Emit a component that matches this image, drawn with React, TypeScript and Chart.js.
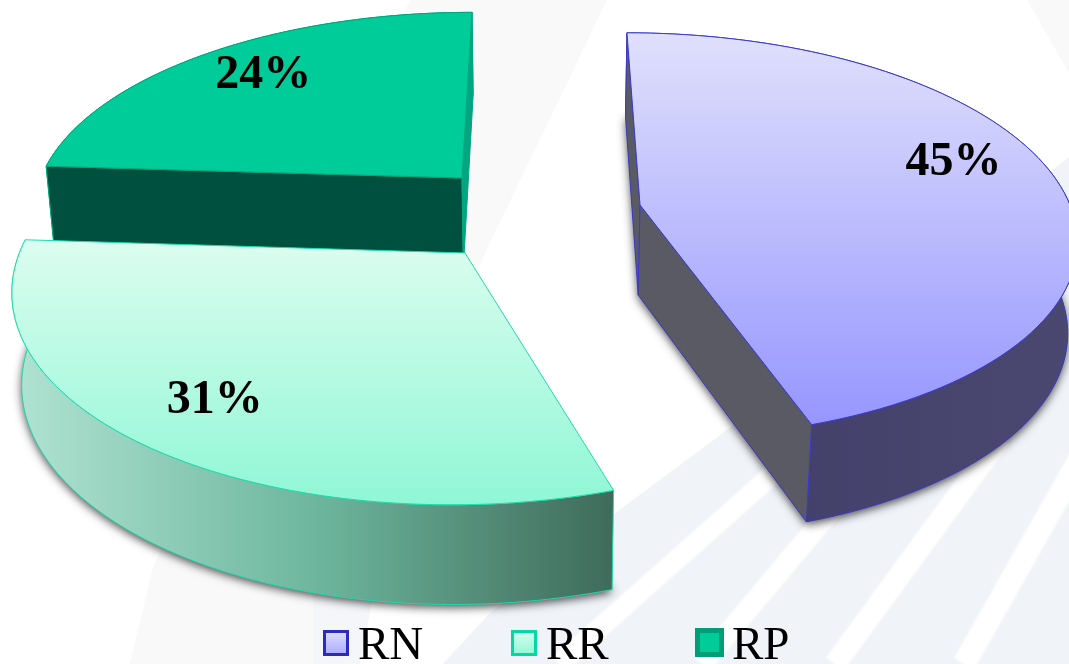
import React, { useEffect, useRef } from "react";
import { Chart, registerables } from "chart.js";

Chart.register(...registerables);

const categories = ["RN", "RR", "RP"];
const shares = [45, 31, 24];

// Slice apexes on the tilted ground plane, in pie-radius units.
const sliceCenters = [
  [0.2326, 0],
  [-0.1683, 0.2339],
  [-0.1852, -0.1392],
];
const labelFractions = [0.795, 0.794, 0.792];
const labelShifts = [-7.6, 0.35, 1.3];
const drawOrder = [2, 0, 1];
const legendX = [323, 511, 695];
const legendY = [630, 630, 628];
const legendSize = [26, 26, 29];
const legendBorder = [3, 3, 5];
const legendTextX = [358, 546, 732];

const topEdge = ["#e0e0fc", "#dcfdf0", "#00cc99"];
const bottomEdge = ["#9696ff", "#8ff7d5", "#00cc99"];
const strokes = ["#3a3ac8", "#1fdcaa", "#00a67d"];
const legendBorders = ["#2b2bc0", "#00d9a0", "#009e77"];

const CAM = { k: 0.15, s: 198, f: 430, x0: 540, y0: 205, depth: 90, nadir: 5000 };

type P = [number, number];

function project(wx: number, wy: number, low: boolean): P {
  const d = 1 - CAM.k * wy;
  let sx = CAM.x0 + (CAM.f * wx) / d;
  let sy = CAM.y0 + (CAM.s * wy) / d;
  if (low) {
    const h = CAM.depth / Math.sqrt(d);
    sy += h;
    sx += ((CAM.x0 - sx) * h) / CAM.nadir;
  }
  return [sx, sy];
}

function poly(ctx: CanvasRenderingContext2D, pts: P[]) {
  ctx.beginPath();
  pts.forEach((p, i) => (i ? ctx.lineTo(p[0], p[1]) : ctx.moveTo(p[0], p[1])));
  ctx.closePath();
}

function paintBackground(ctx: CanvasRenderingContext2D) {
  ctx.save();
  ctx.fillStyle = "#ffffff";
  ctx.fillRect(0, 0, 1069, 664);
  ctx.fillStyle = "#f9f9fa";
  poly(ctx, [[410, 0], [607, 0], [313, 610], [313, 664], [130, 664], [153, 567]]);
  ctx.fill();
  poly(ctx, [[1027, 0], [1069, 0], [1069, 73]]);
  ctx.fill();
  ctx.fillStyle = "#f5f6f9";
  poly(ctx, [[313, 664], [313, 560], [380, 560], [360, 664]]);
  ctx.fill();
  ctx.fillStyle = "#f0f3f8";
  poly(ctx, [[443, 664], [490, 613], [610, 517], [727, 430], [900, 290], [1069, 157], [1069, 664]]);
  ctx.fill();
  ctx.strokeStyle = "#ffffff";
  ctx.lineCap = "butt";
  ctx.filter = "blur(1px)";
  const bands: [number, number, number, number, number][] = [
    [559, 664, 790, 459, 20],
    [702, 664, 860, 476, 21],
    [835, 664, 1000, 438, 22],
    [964, 664, 1090, 441, 23],
  ];
  bands.forEach(([a, b, c, d, w]) => {
    ctx.lineWidth = w;
    ctx.beginPath();
    ctx.moveTo(a, b);
    ctx.lineTo(c, d);
    ctx.stroke();
  });
  ctx.filter = "none";
  ctx.restore();
}

const pie3d = {
  id: "pie3d",
  beforeDatasetDraw() {
    return false;
  },
  afterDatasetsDraw(chart: any) {
    const ctx: CanvasRenderingContext2D = chart.ctx;
    const arcs = chart.getDatasetMeta(0).data;
    ctx.save();

    drawOrder.forEach((i) => {
      const arc = arcs[i];
      const [cx, cy] = sliceCenters[i];
      const a0 = arc.startAngle;
      const a1 = arc.endAngle;
      const rim = (low: boolean) => {
        const out: P[] = [];
        for (let t = 0; t <= 90; t++) {
          const a = a0 + ((a1 - a0) * t) / 90;
          out.push(project(cx + Math.cos(a), cy + Math.sin(a), low));
        }
        return out;
      };
      const topRim = rim(false);
      const lowRim = rim(true);
      const apexTop = project(cx, cy, false);
      const apexLow = project(cx, cy, true);
      const ys = topRim.map((p) => p[1]).concat(apexTop[1]);
      const xs = lowRim.map((p) => p[0]).concat(apexLow[0]);
      const minY = Math.min(...ys);
      const maxY = Math.max(...ys);
      const minX = Math.min(...xs);
      const maxX = Math.max(...xs);

      // soft shadow under the block (the green slice at the back has none)
      if (i !== 2) {
        ctx.save();
        ctx.shadowColor = "rgba(0,0,0,0.7)";
        ctx.shadowBlur = 10;
        ctx.shadowOffsetY = 3;
        ctx.fillStyle = "#555";
        poly(ctx, [apexLow, ...lowRim]);
        ctx.fill();
        ctx.restore();
      }

      // outer wall
      const outer = [...topRim, ...lowRim.slice().reverse()];
      let wall: string | CanvasGradient = "#00503f";
      if (i === 0) {
        const g = ctx.createLinearGradient(minX, 0, maxX, 0);
        g.addColorStop(0, "#3f3d68");
        g.addColorStop(1, "#4a4870");
        wall = g;
      } else if (i === 1) {
        const g = ctx.createLinearGradient(minX, 0, maxX, 0);
        g.addColorStop(0, "#aee2d0");
        g.addColorStop(0.5, "#6db69d");
        g.addColorStop(1, "#3f6b5b");
        wall = g;
      }
      ctx.fillStyle = wall;
      ctx.strokeStyle = strokes[i];
      ctx.lineWidth = 1;
      poly(ctx, outer);
      ctx.fill();
      ctx.stroke();

      // radial walls that face the viewer
      const radial = (edge: number, color: string) => {
        ctx.fillStyle = color;
        poly(ctx, [apexTop, topRim[edge], lowRim[edge], apexLow]);
        ctx.fill();
        ctx.stroke();
      };
      if (i === 0) {
        radial(0, "#5a5a65");
        radial(90, "#5a5a65");
      } else if (i === 2) {
        radial(0, "#00503f");
        radial(90, "#00a680");
      }

      // top face
      const g = ctx.createLinearGradient(0, minY, 0, maxY);
      g.addColorStop(0, topEdge[i]);
      g.addColorStop(1, bottomEdge[i]);
      ctx.fillStyle = g;
      poly(ctx, [apexTop, ...topRim]);
      ctx.fill();
      ctx.stroke();
    });

    // percentage labels
    ctx.fillStyle = "#000";
    ctx.font = "bold 48px 'Liberation Serif'";
    ctx.textAlign = "center";
    ctx.textBaseline = "middle";
    shares.forEach((v, i) => {
      const arc = arcs[i];
      const a = (arc.startAngle + arc.endAngle) / 2 + (labelShifts[i] * Math.PI) / 180;
      const p = project(
        sliceCenters[i][0] + labelFractions[i] * Math.cos(a),
        sliceCenters[i][1] + labelFractions[i] * Math.sin(a),
        false,
      );
      ctx.fillText(`${v}%`, p[0], p[1] + 1);
    });

    // legend
    ctx.textAlign = "left";
    ctx.textBaseline = "alphabetic";
    ctx.font = "47px 'Liberation Serif'";
    categories.forEach((name, i) => {
      const bw = legendBorder[i];
      const size = legendSize[i];
      const x = legendX[i];
      const y = legendY[i];
      ctx.fillStyle = legendBorders[i];
      ctx.fillRect(x, y, size, size);
      const g = ctx.createLinearGradient(0, y, 0, y + size);
      g.addColorStop(0, topEdge[i]);
      g.addColorStop(1, i === 0 ? "#a8a8ff" : bottomEdge[i]);
      ctx.fillStyle = g;
      ctx.fillRect(x + bw, y + bw, size - 2 * bw, size - 2 * bw);
      ctx.fillStyle = "#000";
      ctx.fillText(name, legendTextX[i], 659);
    });
    ctx.restore();
  },
  beforeDraw(chart: any) {
    paintBackground(chart.ctx);
  },
};

export default function App() {
  const ref = useRef<HTMLCanvasElement | null>(null);
  useEffect(() => {
    const chart = new Chart(ref.current as HTMLCanvasElement, {
      type: "pie",
      data: {
        labels: categories,
        datasets: [{ data: shares, backgroundColor: bottomEdge, borderColor: strokes, borderWidth: 1 }],
      },
      options: {
        animation: false,
        responsive: false,
        rotation: 0,
        plugins: { legend: { display: false }, tooltip: { enabled: false } },
      },
      plugins: [pie3d],
    } as any);
    return () => chart.destroy();
  }, []);
  return (
    <div style={{ position: "fixed", left: 0, top: 0, width: 1069, height: 664, overflow: "hidden" }}>
      <canvas ref={ref} width={1069} height={664} style={{ display: "block" }} />
    </div>
  );
}
